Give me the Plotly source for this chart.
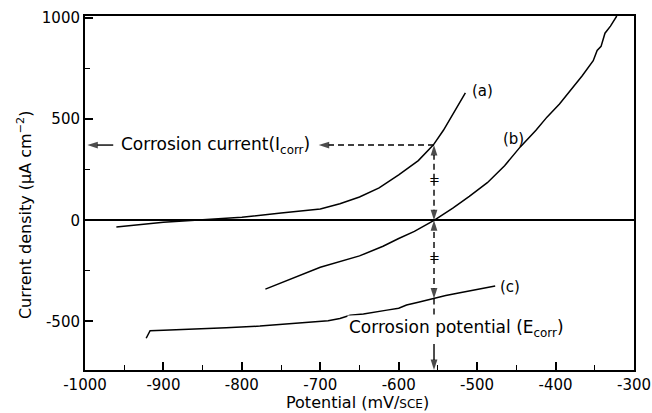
import plotly.graph_objects as go

# ---- data ----
a_x = [-960, -930, -900, -850, -800, -750, -700, -675, -650, -625, -600, -575, -556, -543, -530, -522, -515]
a_y = [-33, -22, -10, 3, 15, 36, 56, 82, 115, 160, 225, 295, 372, 445, 530, 585, 630]

b_x = [-770, -740, -700, -650, -620, -600, -580, -555, -531, -510, -487, -465, -445, -425, -411, -395,
       -381, -366, -352, -347, -342, -337, -330, -322]
b_y = [-340, -295, -232, -176, -128, -90, -55, 0, 60, 118, 186, 270, 363, 445, 510, 575,
       642, 715, 789, 840, 860, 925, 960, 1010]

c_x = [-922, -919, -917, -900, -862, -820, -777, -740, -715, -700, -690, -675, -662, -645, -630, -615,
       -600, -590, -575, -564, -555, -540, -522, -500, -477]
c_y = [-583, -560, -546, -543, -538, -531, -523, -512, -505, -497, -496, -485, -469, -463, -455, -444,
       -435, -419, -405, -394, -386, -372, -358, -342, -325]

E_corr = -555          # corrosion potential (mV/SCE)
I_corr = 372           # curve (a) current at E_corr
I_c_at_E = -386        # curve (c) current at E_corr
break_marks = [200, -186]   # positions of the break marks on the dashed line

x_tickvals = [-1000, -900, -800, -700, -600, -500, -400, -300]
x_ticktext = ["-1000", "-900", "-800", "-700", "-600", "-500", "-400", "-300"]
x_minor = [-950, -850, -750, -650, -550, -450, -350]
y_tickvals = [1000, 500, 0, -500]
y_ticktext = ["1000", "500", "0", "-500"]
y_minor = [750, 250, -250]

X_RANGE = [-1000, -300]
Y_RANGE = [-740, 1010]

FONT = "DejaVu Sans"
curve_line = dict(color="black", width=1.5)
DASH = "6px,4px"

fig = go.Figure()
for xs, ys in [(a_x, a_y), (b_x, b_y), (c_x, c_y)]:
    fig.add_trace(go.Scatter(x=xs, y=ys, mode="lines", line=curve_line,
                             showlegend=False, hoverinfo="skip"))


def arrow(x0, y0, x1, y1, dash=None):
    """Line from (x0,y0) to (x1,y1) with an arrowhead at (x1,y1)."""
    fig.add_trace(go.Scatter(
        x=[x0, x1], y=[y0, y1], mode="lines+markers",
        line=dict(color="black", width=1.4, dash=dash),
        marker=dict(symbol="arrow", size=[0, 11], angleref="previous", color="black",
                    line=dict(width=0)),
        showlegend=False, hoverinfo="skip", cliponaxis=False))


# vertical construction line through E_corr
arrow(E_corr, break_marks[0], E_corr, I_corr, DASH)
arrow(E_corr, break_marks[0], E_corr, 0, DASH)
arrow(E_corr, break_marks[1], E_corr, 0, DASH)
arrow(E_corr, break_marks[1], E_corr, I_c_at_E, DASH)
fig.add_trace(go.Scatter(x=[E_corr, E_corr], y=[I_c_at_E, -560], mode="lines",
                         line=dict(color="black", width=1.4, dash=DASH),
                         showlegend=False, hoverinfo="skip"))
arrow(E_corr, -612, E_corr, Y_RANGE[0])
# horizontal construction line at I_corr
arrow(E_corr, I_corr, -702, I_corr, DASH)
arrow(-964, I_corr, -997, I_corr)

ann = []
txt_font = dict(family=FONT, size=17, color="black")
lbl_font = dict(family=FONT, size=15, color="black")
ann.append(dict(x=-834, y=I_corr, xref="x", yref="y", showarrow=False, font=txt_font,
                text="Corrosion current(I<sub>corr</sub>)", yanchor="middle"))
ann.append(dict(x=-526, y=-534, xref="x", yref="y", showarrow=False, font=txt_font,
                text="Corrosion potential (E<sub>corr</sub>)", bgcolor="white", yanchor="middle"))
ann.append(dict(x=-493, y=638, xref="x", yref="y", showarrow=False, font=lbl_font, text="(a)"))
ann.append(dict(x=-454, y=400, xref="x", yref="y", showarrow=False, font=lbl_font, text="(b)"))
ann.append(dict(x=-458, y=-331, xref="x", yref="y", showarrow=False, font=lbl_font, text="(c)"))
for ym in break_marks:
    ann.append(dict(x=E_corr, y=ym, xref="x", yref="y", showarrow=False,
                    font=dict(family=FONT, size=13, color="black"), text="="))
# axis titles
ann.append(dict(x=0.497, y=-0.093, xref="paper", yref="paper", showarrow=False,
                xanchor="center", yanchor="middle", font=dict(family=FONT, size=16, color="black"),
                text="Potential (mV/<span style='font-size:12px'>SCE</span>)"))
ann.append(dict(x=-0.109, y=0.438, xref="paper", yref="paper", showarrow=False, textangle=-90,
                xanchor="center", yanchor="middle", font=dict(family=FONT, size=16, color="black"),
                text="Current density (μA cm<sup>−2</sup>)"))

axis_common = dict(showline=True, linecolor="black", linewidth=2, mirror=True,
                   ticks="inside", ticklen=8, tickwidth=1.5, tickcolor="black", automargin=False,
                   showgrid=False, tickfont=dict(family=FONT, size=15, color="black"))

fig.update_layout(
    width=652, height=413,
    margin=dict(l=85, r=18, t=16, b=43),
    paper_bgcolor="white", plot_bgcolor="white",
    annotations=ann,
    xaxis=dict(range=X_RANGE, tickmode="array", tickvals=x_tickvals, ticktext=x_ticktext,
               minor=dict(tickmode="array", tickvals=x_minor, ticks="inside", ticklen=5,
                          tickwidth=1.2, tickcolor="black"),
               zeroline=False, **axis_common),
    yaxis=dict(range=Y_RANGE, tickmode="array", tickvals=y_tickvals, ticktext=y_ticktext,
               minor=dict(tickmode="array", tickvals=y_minor, ticks="inside", ticklen=5,
                          tickwidth=1.2, tickcolor="black"),
               zeroline=True, zerolinecolor="black", zerolinewidth=1.5, **axis_common),
)

fig.write_html("out.html")
